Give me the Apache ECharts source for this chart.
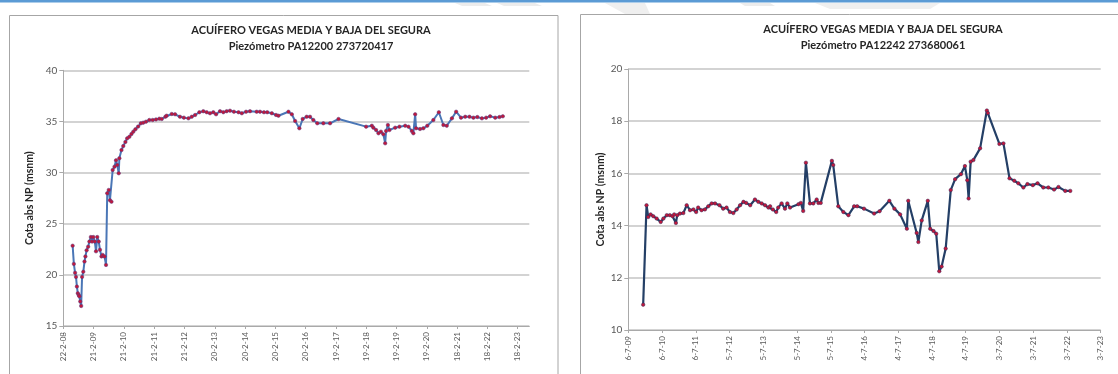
<!DOCTYPE html>
<html>
<head>
<meta charset="utf-8">
<script src="https://cdn.jsdelivr.net/npm/echarts@6/dist/echarts.min.js"></script>
<style>
html,body{margin:0;padding:0;background:#fff;}
#c{width:1118px;height:374px;}
</style>
</head>
<body>
<div id="c"></div>
<script>
// ---- Data (decimal year, level in m a.s.l.) ----
const leftTitle = 'ACUÍFERO VEGAS MEDIA Y BAJA DEL SEGURA';
const leftSubtitle = 'Piezómetro PA12200 273720417';
const rightTitle = 'ACUÍFERO VEGAS MEDIA Y BAJA DEL SEGURA';
const rightSubtitle = 'Piezómetro PA12242 273680061';
const yAxisName = 'Cota abs NP (msnm)';

const leftTickLabels = ['22-2-08','21-2-09','21-2-10','21-2-11','21-2-12','20-2-13','20-2-14','20-2-15','20-2-16','19-2-17','19-2-18','19-2-19','19-2-20','18-2-21','18-2-22','18-2-23'];
const rightTickLabels = ['6-7-09','6-7-10','6-7-11','5-7-12','5-7-13','5-7-14','5-7-15','4-7-16','4-7-17','4-7-18','4-7-19','3-7-20','3-7-21','3-7-22','3-7-23'];

const leftYears = [2008.45,2008.49,2008.53,2008.56,2008.59,2008.62,2008.65,2008.67,2008.70,2008.73,2008.76,2008.80,2008.84,2008.87,2008.91,2008.96,2009.00,2009.05,2009.09,2009.13,2009.18,2009.22,2009.26,2009.31,2009.35,2009.40,2009.44,2009.50,2009.55,2009.59,2009.64,2009.68,2009.73,2009.77,2009.83,2009.88,2009.92,2009.97,2009.99,2010.06,2010.12,2010.19,2010.25,2010.32,2010.39,2010.45,2010.52,2010.61,2010.70,2010.78,2010.87,2010.98,2011.09,2011.20,2011.31,2011.39,2011.51,2011.55,2011.72,2011.83,2011.99,2012.12,2012.27,2012.38,2012.49,2012.63,2012.76,2012.87,2012.98,2013.09,2013.18,2013.31,2013.42,2013.53,2013.64,2013.77,2013.92,2014.03,2014.17,2014.30,2014.52,2014.63,2014.76,2014.87,2015.02,2015.16,2015.24,2015.57,2015.68,2015.79,2015.93,2016.04,2016.17,2016.28,2016.39,2016.52,2016.72,2016.94,2017.22,2018.13,2018.32,2018.37,2018.46,2018.54,2018.62,2018.70,2018.76,2018.79,2018.85,2018.90,2019.09,2019.23,2019.42,2019.53,2019.64,2019.69,2019.75,2019.78,2019.91,2020.02,2020.15,2020.35,2020.53,2020.68,2020.79,2020.96,2021.10,2021.26,2021.40,2021.54,2021.67,2021.80,2021.95,2022.09,2022.22,2022.39,2022.53,2022.64];
const leftLevels = [22.85,21.07,20.2,19.8,18.85,18.2,18.03,17.9,17.4,16.96,19.8,20.3,21.3,21.8,22.4,22.75,23.25,23.7,23.25,23.7,23.25,22.3,23.7,23.25,22.45,21.8,21.95,21.8,20.97,27.98,28.3,27.3,27.15,30.25,30.58,31.2,30.75,29.93,31.4,32.2,32.6,33.0,33.35,33.5,33.77,34.0,34.23,34.5,34.82,34.88,34.98,35.14,35.14,35.2,35.27,35.24,35.46,35.56,35.73,35.7,35.46,35.37,35.3,35.46,35.63,35.9,36.0,35.9,35.8,35.9,35.7,36.0,35.9,36.0,36.05,35.95,35.9,35.8,35.95,36.0,35.95,35.95,35.9,35.9,35.8,35.63,35.56,35.95,35.7,35.04,34.33,35.24,35.46,35.46,35.14,34.82,34.82,34.82,35.24,34.49,34.58,34.39,34.16,33.84,34.0,33.74,32.86,34.07,34.65,34.16,34.39,34.49,34.58,34.49,34.07,33.84,35.7,34.33,34.26,34.33,34.58,35.14,35.9,34.65,34.58,35.3,35.95,35.37,35.46,35.46,35.37,35.43,35.3,35.37,35.5,35.37,35.43,35.5];

const rightYears = [2009.95,2010.05,2010.10,2010.17,2010.25,2010.35,2010.47,2010.55,2010.65,2010.74,2010.82,2010.87,2010.92,2010.96,2011.04,2011.14,2011.24,2011.34,2011.44,2011.52,2011.58,2011.68,2011.78,2011.88,2011.98,2012.08,2012.21,2012.32,2012.42,2012.52,2012.62,2012.72,2012.82,2012.92,2013.00,2013.12,2013.26,2013.36,2013.46,2013.56,2013.66,2013.71,2013.79,2013.89,2013.95,2014.05,2014.15,2014.22,2014.30,2014.55,2014.62,2014.69,2014.77,2014.89,2014.99,2015.09,2015.14,2015.21,2015.54,2015.58,2015.73,2015.88,2016.03,2016.20,2016.29,2016.49,2016.79,2016.95,2017.24,2017.39,2017.56,2017.76,2017.80,2018.05,2018.10,2018.20,2018.38,2018.45,2018.55,2018.63,2018.72,2018.79,2018.91,2019.06,2019.19,2019.36,2019.48,2019.55,2019.59,2019.65,2019.73,2019.93,2020.13,2020.16,2020.50,2020.62,2020.80,2020.94,2021.06,2021.21,2021.33,2021.49,2021.63,2021.80,2021.95,2022.12,2022.25,2022.45,2022.60];
const rightLevels = [10.97,14.78,14.33,14.43,14.36,14.27,14.14,14.27,14.40,14.40,14.36,14.43,14.10,14.40,14.46,14.48,14.78,14.59,14.62,14.52,14.69,14.59,14.62,14.74,14.85,14.85,14.78,14.65,14.69,14.52,14.48,14.62,14.78,14.91,14.87,14.78,15.0,14.91,14.85,14.78,14.69,14.74,14.62,14.52,14.69,14.85,14.65,14.85,14.69,14.82,14.87,14.56,16.41,14.85,14.85,15.0,14.87,14.87,16.48,16.32,14.74,14.52,14.40,14.74,14.74,14.65,14.46,14.55,14.95,14.65,14.43,13.88,14.95,13.72,13.37,14.20,14.95,13.88,13.79,13.69,12.25,12.43,13.12,15.36,15.78,15.97,16.28,15.74,15.04,16.45,16.51,16.96,18.41,18.31,17.13,17.15,15.81,15.72,15.62,15.46,15.59,15.55,15.62,15.46,15.46,15.38,15.48,15.33,15.33];

// ---- helpers ----
const DAY = 86400000;
const STEP = 365; // days between date ticks
const leftBase = Date.UTC(2008, 1, 22);
const rightBase = Date.UTC(2009, 6, 6);
function yearToMs(y) {
  const Y = Math.floor(y);
  const s = Date.UTC(Y, 0, 1), e = Date.UTC(Y + 1, 0, 1);
  return s + (y - Y) * (e - s);
}
function toPairs(years, vals, base) {
  return years.map((y, i) => [(yearToMs(y) - base) / DAY, vals[i]]);
}
const leftTicks = leftTickLabels.map((_, i) => i * STEP);
const rightTicks = rightTickLabels.map((_, i) => i * STEP);

const FONT = 'Lato, "Liberation Sans", sans-serif';
const gridColor = '#c4c4c4';
const axisColor = '#a9a9a9';
const labelColor = '#595959';

function xAxisFor(gridIndex, ticks, labels, max) {
  return {
    type: 'value', gridIndex, min: 0, max,
    splitLine: { show: false },
    axisLine: { show: true, lineStyle: { color: axisColor, width: 1 } },
    axisTick: { show: true, length: 3, customValues: ticks, lineStyle: { color: axisColor } },
    axisLabel: {
      customValues: ticks, rotate: 90, margin: 6, fontSize: 8, color: labelColor, fontFamily: FONT,
      formatter: v => labels[Math.round(v / STEP)] || ''
    }
  };
}
function yAxisFor(gridIndex, min, max, interval, nameGap) {
  return {
    type: 'value', gridIndex, min, max, interval,
    name: yAxisName, nameLocation: 'middle', nameGap,
    nameTextStyle: { fontSize: 10.5, fontWeight: 'bold', color: '#262626', fontFamily: FONT },
    axisLine: { show: true, lineStyle: { color: axisColor, width: 1 } },
    axisTick: { show: true, length: 4, lineStyle: { color: axisColor } },
    axisLabel: { fontSize: 10, color: labelColor, fontFamily: FONT, margin: 6 },
    splitLine: { show: true, lineStyle: { color: gridColor, width: 1.5 } }
  };
}
function titleText(x, y, t, size) {
  return { type: 'text', x, y, silent: true,
    style: { text: t, align: 'center', verticalAlign: 'middle', fill: '#262626',
             font: 'bold ' + size + 'px ' + FONT } };
}

const chart = echarts.init(document.getElementById('c'), null, { renderer: 'canvas' });
chart.setOption({
  animation: false,
  backgroundColor: '#fff',
  grid: [
    { left: 63.3, top: 70.3, width: 466, height: 255.7 },
    { left: 628.3, top: 69, width: 472.4, height: 261 }
  ],
  xAxis: [
    xAxisFor(0, leftTicks, leftTickLabels, 5615),
    xAxisFor(1, rightTicks, rightTickLabels, 14 * STEP)
  ],
  yAxis: [
    yAxisFor(0, 15, 40, 5, 28),
    yAxisFor(1, 10, 20, 2, 22)
  ],
  series: [
    { type: 'line', xAxisIndex: 0, yAxisIndex: 0, data: toPairs(leftYears, leftLevels, leftBase),
      symbol: 'circle', symbolSize: 3.5, showAllSymbol: true,
      lineStyle: { color: '#4a76b6', width: 2 },
      itemStyle: { color: '#c0183c', borderColor: '#5a3a80', borderWidth: 0.5 } },
    { type: 'line', xAxisIndex: 1, yAxisIndex: 1, data: toPairs(rightYears, rightLevels, rightBase),
      symbol: 'circle', symbolSize: 3.5, showAllSymbol: true,
      lineStyle: { color: '#243f66', width: 2.2 },
      itemStyle: { color: '#c0183c', borderColor: '#3a2a5a', borderWidth: 0.5 } }
  ],
  graphic: [
    { type: 'rect', silent: true, shape: { x: 0, y: 0, width: 1118, height: 2.5 }, style: { fill: '#5b9bd5' } },
    { type: 'polygon', silent: true, shape: { points: [[455,3],[485,3],[492,6],[462,6]] }, style: { fill: '#ececec' } },
    { type: 'polygon', silent: true, shape: { points: [[497,3],[535,3],[542,6],[504,6]] }, style: { fill: '#ececec' } },
    { type: 'polygon', silent: true, shape: { points: [[605,3],[645,3],[650,14],[625,14]] }, style: { fill: '#efefef' } },
    { type: 'polygon', silent: true, shape: { points: [[740,3],[770,3],[775,6],[745,6]] }, style: { fill: '#ececec' } },
    { type: 'polygon', silent: true, shape: { points: [[815,3],[940,3],[930,9],[830,9]] }, style: { fill: '#efefef' } },
    { type: 'rect', silent: true, shape: { x: 9.5, y: 15.5, width: 548.5, height: 400 },
      style: { fill: 'none', stroke: '#a6a6a6', lineWidth: 1 } },
    { type: 'rect', silent: true, shape: { x: 580.5, y: 14.5, width: 600, height: 400 },
      style: { fill: 'none', stroke: '#a6a6a6', lineWidth: 1 } },
    titleText(311, 30, leftTitle, 11),
    titleText(311, 46, leftSubtitle, 11),
    titleText(883, 29.5, rightTitle, 11),
    titleText(883, 45, rightSubtitle, 11)
  ]
});
</script>
</body>
</html>
